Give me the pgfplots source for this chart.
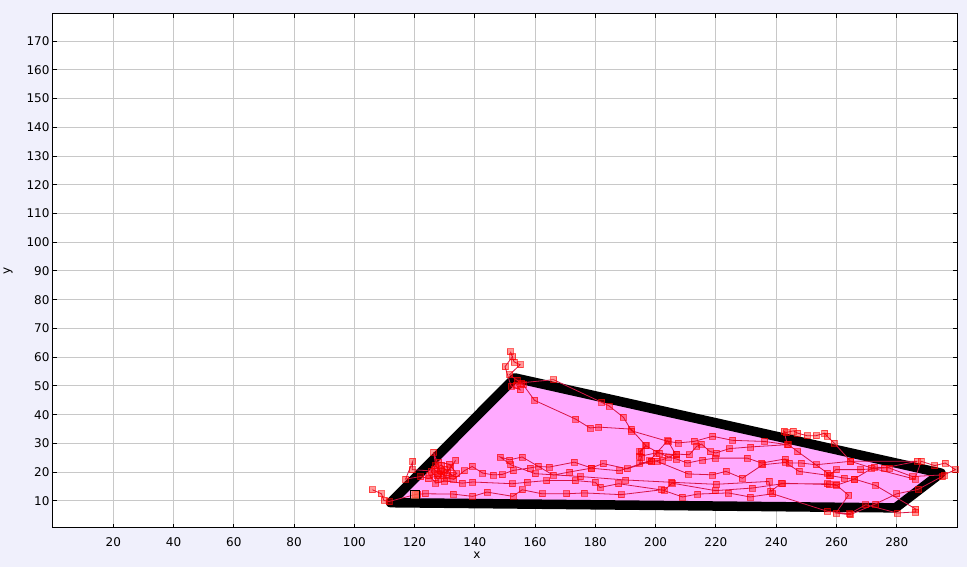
\documentclass[border=0pt]{standalone}
\usepackage{fontspec}
\setmainfont{DejaVu Sans}
\usepackage{pgfplots}
\pgfplotsset{compat=1.18}
\definecolor{bgc}{RGB}{240,240,252}
\definecolor{gridc}{RGB}{200,200,200}
\definecolor{pinkf}{RGB}{255,170,255}
\definecolor{trail}{RGB}{215,20,70}
\definecolor{startc}{RGB}{250,130,90}
\begin{document}
\begin{tikzpicture}
\fill[bgc] (-53pt,-39pt) rectangle (914pt,528pt);
\begin{axis}[
  at={(0,0)}, anchor=south west, scale only axis,
  width=904pt, height=514pt,
  xmin=0, xmax=300, ymin=0.6, ymax=179.4,
  xtick={20,40,...,280}, ytick={10,20,...,170},
  grid=major, major grid style={gridc, line width=1pt},
  axis line style={black, line width=1pt},
  tick style={black, line width=1pt}, tick align=inside, major tick length=4pt,
  font=\fontsize{12}{14}\selectfont,
  /pgf/number format/assume math mode=true,
  xticklabel style={yshift=-6pt},
  xlabel={x}, ylabel={y},
  label style={font=\fontsize{10}{12}\selectfont},
  every axis x label/.style={at={(axis description cs:0.469,0)}, anchor=center, yshift=-27pt},
  every axis y label/.style={at={(axis description cs:0,0.5)}, anchor=center, xshift=-45pt, rotate=90},
  axis background/.style={fill=white},
]
\addplot[fill=pinkf, draw=black, line width=9.5pt, line join=round] coordinates {
(112,9.4) (153.3,52.8) (294.7,19.7) (279.6,7.6)} -- cycle;
\addplot[trail, line width=0.8pt, mark=square*, mark size=3pt,
  mark options={fill=red, fill opacity=0.4, draw=red, draw opacity=0.6, line width=0.6pt}] coordinates {
(106,13.9)(109,12.5)(109.8,10.2)(111.5,9.8)(120.1,12.2)(121,12.4)(123.6,12.5)(132.7,12.4)(139.3,11.6)(144,13.1)(152.6,11.6)(155.7,13.9)(162.3,12.5)(170.5,12.5)(176.3,12.8)(188.5,12.2)(202,13.9)(208.9,11.4)(213.9,12.4)(224.1,12.8)(231.3,11.4)(238.8,12.5)(257,6.4)(264.4,5.6)(269.7,8.7)(280.2,5.8)(286.3,6.2)(286.3,7.2)
(273,15.4)(266,17.6)(259.8,15.4)(257,16)(242.1,16)(232.1,14.5)(219.8,13.6)(205.4,16.2)(202.9,13.7)(187.7,16)(181.5,14.7)(180,16.5)(173.3,17.1)(163.8,17.1)(157.3,16.5)(152.4,16)(139.3,16.6)(135.8,16.2)
(130,17)(127,16.2)(125,18.8)(128,19.5)(126.5,21)(129,22.5)(131,20)(133.6,24.1)(132,21.8)(129.5,19)(127,22.3)(126.3,27)(128.5,20.5)(130.5,18)(134,19.5)(131.5,22.8)(128,23.5)(125.5,20.3)(127.8,17.5)(130,21)(132.5,19)(129,20.2)(119.2,20.9)(119.4,23.8)(117,17.6)(122,18.5)(124.5,17.8)(127.5,18.8)(133,17.5)(136.5,20.5)(139.1,22)(142.6,19.7)(146,19.1)(149,19.2)
(152.6,20.6)(158.3,21.5)(160.9,22)(164.7,21.8)(173,23.5)(178.6,21.5)(182.5,23)(190.6,21.2)(198.4,23.8)(200.4,23.8)(210.8,19.4)(218.9,19.1)(223.3,20.3)(228.8,17.9)(235.5,22.6)(243,23.4)(247.6,20.3)(258.1,18.8)(262.5,18)(265.8,17.6)(272.5,21.8)(277.4,21.5)(285.2,18.5)(295.7,19.1)(299.5,20.9)(296.1,23.2)(292.6,22.3)(288.1,23.8)(286,17.6)
(271.6,21.5)(264.7,23.8)(253.2,22.6)(248.2,23.2)(244.3,23.2)(242.9,24.6)(235.2,23.2)(230.4,24.9)(219.7,24.9)(215.6,24.3)(210.5,23.2)(206.9,24.6)(204.2,25.3)(201.1,26.7)(196.7,29.2)(194.7,27.2)(195.3,25.3)(194.7,23.2)(198.7,23.8)(202.2,24.3)(206.7,26.3)(211.2,26.1)(213.6,29)(215.2,29.8)(218,27.2)(220,26.7)(224.4,28.2)(231.5,28.8)(244,29.6)(247.1,27.2)(257,19.7)(257.6,18.8)(259.8,20.9)(268,20.9)(275.8,21.5)(286.8,23.8)
(264.7,23.8)(259.2,30.2)(256.9,32.5)(256.1,33.6)(253.2,32.7)(250.2,32.7)(247.1,33.6)(245.7,34.4)(243.2,33.8)(242.6,34.2)(243.7,29.6)(236.2,30.7)(225.5,31.1)(218.9,32.5)(212.7,30.7)(207.5,30.2)(204.2,30.7)(192,34.4)(189.3,39.1)(184.5,43.1)(182.1,44.3)(166.1,52.2)(155.5,51.1)(153.8,50.4)(155,48.7)(152,50)(150,56.7)(152.5,60.2)(151.8,61.9)(153,58.4)(155,57.4)(151.5,53.9)(154,52)(156,50.5)(159.8,45)(173.4,38.5)(178.2,35.4)(181.1,35.7)(191.8,35)(196.8,29.2)(195.1,27.2)(194.6,25.5)(200.1,26.7)(206.7,26.1)(204,31)
(198,24)(188,20.5)(178.6,21.4)(171.5,20.1)(166,19)(155.7,25.3)(151.5,24.3)(148.4,25.3)(151.9,22.6)(160,19.5)(175,18.5)(190,17.3)(205.3,16.5)(220,15.8)(237.6,16.8)(238.2,13.3)(241.7,16.2)(257.6,15.7)(259.8,15.7)(264,12)(259.8,5.8)(264.5,5.2)(273,9)(280,12.5)(287,14)(295,18.5)
};
\addplot[only marks, mark=square*, mark size=4.5pt, mark options={fill=startc, fill opacity=0.6, draw=none}] coordinates {(120.1,12.2)};
\end{axis}
\pgfresetboundingbox
\path (-53pt,-39pt) rectangle (914pt,528pt);
\end{tikzpicture}
\end{document}
